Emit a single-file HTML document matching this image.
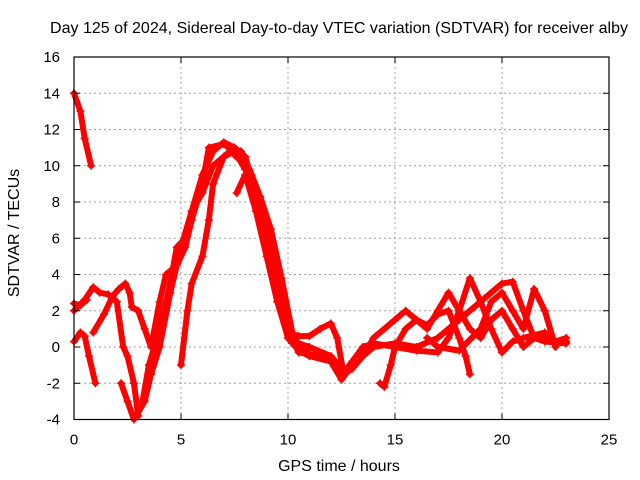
<!DOCTYPE html>
<html><head><meta charset="utf-8"><style>
body{margin:0;background:#fff;}
svg{display:block;font-family:"Liberation Sans",sans-serif;}
</style></head><body>
<svg id="chart" width="640" height="480">
<text x="339" y="33" font-size="16" text-anchor="middle" textLength="578">Day 125 of 2024, Sidereal Day-to-day VTEC variation (SDTVAR) for receiver alby</text>
<text x="339" y="471" font-size="16" text-anchor="middle">GPS time / hours</text>
<text transform="translate(19,233) rotate(-90)" font-size="16" text-anchor="middle">SDTVAR / TECUs</text>
<g id="grid"></g><g id="marks"></g><g id="axes"></g>
</svg>
<script>
const xTicks=[0,5,10,15,20,25];
const yTicks=[-4,-2,0,2,4,6,8,10,12,14,16];
const traceAx=[0,0.3,0.5,0.8];
const traceAy=[14,13,11.5,10];
const traceBx=[0,0.3,0.5,0.7,1.0];
const traceBy=[0.3,0.8,0.6,-0.5,-2];
const traceCx=[0,0.5,0.9,1.2,1.6,2,2.3,2.5,2.8,3.0];
const traceCy=[2,2.6,3.3,3,2.9,2.5,0,-0.5,-2,-3.8];
const traceDx=[0.9,1.4,1.8,2.1,2.4,2.6,2.7,3,3.3,3.6,4,4.3,4.8,5.2,5.5,6,6.3,7,7.5,8,8.5,9,9.5,10,10.5,11,11.5,12,12.3,12.6,13,13.5,14,15,15.5,16,16.5,17,17.5,18,18.5,19,19.5,20,20.5,21,21.5,22,22.5,23];
const traceDy=[0.8,1.8,2.8,3.2,3.5,3,2.2,2,1,0,2.5,4,4.5,5.5,7,9,11,11.2,11,10.3,8,5.5,2.5,0.8,0.6,0.6,1,1.3,0.5,-1.5,-1.2,-0.5,0.5,1.5,2,1.5,1,2,3,2,1,0.5,1.5,2,1,0,0.5,0.5,0.2,0.3];
const traceEx=[2.2,2.5,2.8,3.3,3.6,4,4.5,5,5.5,6,6.5,7,7.5,8,8.5,9,9.5,10,10.5,11.5,12,12.5,13,13.5,14,15,16,17,17.5,18,18.5,19,19.5,20,20.5,21,22,22.5,23];
const traceEy=[-2,-3,-4,-3,-1.5,0,3,5.5,7.5,8.5,10,10.5,10.8,9.8,8,5.8,3.2,1,-0.3,-0.5,-0.8,-1.6,-0.8,0,0.2,0,-0.2,-0.3,0.5,2,3.8,2.5,1,-0.3,0.3,0.5,0.8,0.3,0.5];
const traceFx=[3.2,3.5,4,4.5,4.8,5.2,5.5,6,6.5,7,7.5,8,8.5,9,9.5,10,10.5,11,12,12.5];
const traceFy=[-3,-1,1,3.5,5.5,6,7.5,9.5,10.8,11.3,11,10.5,8.5,6,3.5,0.8,0.2,0,-0.5,-1.2];
const traceGx=[5,5.3,5.5,6,6.3,6.5,7,7.5,8,8.5,9,9.5,10,10.5,11,12,12.5,13,14,15,16,17,18,19,20,20.5,21,21.5,22,23];
const traceGy=[-1,2,3.5,5,7,9,10.5,11,10.2,8,6,3,0.5,-0.2,-0.5,-0.8,-1.8,-1,0,0.2,0,0.5,1.5,2.5,3.5,3.6,2,0.5,0.3,0.2];
const traceHx=[14.3,14.5,14.8,15,15.5,16,16.5,17,17.5,18,18.3,18.5];
const traceHy=[-2,-2.2,-1,0,1,1.5,1.2,1.8,2,0.5,-0.5,-1.5];
const traceIx=[16.5,17,18,19,19.5,20,20.5,21,21.5,22,22.5];
const traceIy=[0.5,0,-0.2,1,2.5,3,2,1,3.2,2,0];
const traceJx=[0,0.3,0.6];
const traceJy=[2.4,2.3,2.6];
const traceKx=[7.6,8,8.5,9,9.5,10,10.5];
const traceKy=[8.5,9.5,7.5,5,2.5,0.5,0];
const traceLx=[7.2,7.8,8.3,8.8,9.3,9.8,10.2];
const traceLy=[11,10.8,9.5,7.5,5,2,0.2];
const traceMx=[7.5,8.2,8.7,9.2,9.7,10.3,11];
const traceMy=[10.6,9.8,8.3,6.5,3.8,0.2,-0.4];
const traces=[[traceAx,traceAy],[traceBx,traceBy],[traceCx,traceCy],[traceDx,traceDy],[traceEx,traceEy],[traceFx,traceFy],[traceGx,traceGy],[traceHx,traceHy],[traceIx,traceIy],[traceJx,traceJy],[traceKx,traceKy],[traceLx,traceLy],[traceMx,traceMy]];
const X0=74,X1=609,YT=57,YB=419.5;
function sx(v){return X0+(v-0)/(25-0)*(X1-X0);}
function sy(v){return YB-(v+4)/20*(YB-YT);}
const NS="http://www.w3.org/2000/svg";
function mk(t,a,p){const e=document.createElementNS(NS,t);for(const k in a)e.setAttribute(k,a[k]);p.appendChild(e);return e;}
const grid=document.getElementById('grid'),axes=document.getElementById('axes'),marks=document.getElementById('marks');
xTicks.forEach(t=>{
 if(t>0&&t<25){const g=mk('line',{x1:sx(t),x2:sx(t),y1:YT,y2:YB,stroke:'#a0a0a0','stroke-dasharray':'2,3'},grid);
 
 }
 const tx=mk('text',{x:sx(t),y:YB+25,'font-size':15,'text-anchor':'middle'},axes);tx.textContent=t;
 
 
 mk('line',{x1:sx(t),x2:sx(t),y1:YB,y2:YB-6,stroke:'#000'},axes);
 mk('line',{x1:sx(t),x2:sx(t),y1:YT,y2:YT+6,stroke:'#000'},axes);
});
yTicks.forEach(t=>{
 if(t>-4&&t<16){const g=mk('line',{x1:X0,x2:X1,y1:sy(t),y2:sy(t),stroke:'#a0a0a0','stroke-dasharray':'2,3'},grid);
 
 }
 const tx=mk('text',{x:X0-14,y:sy(t)+5,'font-size':15,'text-anchor':'end'},axes);tx.textContent=t;
 
 
 mk('line',{x1:X0,x2:X0+6,y1:sy(t),y2:sy(t),stroke:'#000'},axes);
 mk('line',{x1:X1,x2:X1-6,y1:sy(t),y2:sy(t),stroke:'#000'},axes);
});
const fr=mk('rect',{x:X0,y:YT,width:X1-X0,height:YB-YT,fill:'none',stroke:'#000','stroke-width':1.2},axes);


traces.forEach(([xs,ys])=>{
 const pts=xs.map((x,i)=>sx(x)+','+sy(ys[i])).join(' ');
 const pl=mk('polyline',{points:pts,fill:'none',stroke:'#ff0000','stroke-width':6,'stroke-linejoin':'round','stroke-linecap':'round'},marks);
 
 
 xs.forEach((x,i)=>{
  const px=sx(x),py=sy(ys[i]);
  const m=mk('path',{d:`M${px-4},${py}H${px+4}M${px},${py-4}V${py+4}`,stroke:'#ff0000','stroke-width':1.5},marks);
  
  
 });
});
</script>
</body></html>
